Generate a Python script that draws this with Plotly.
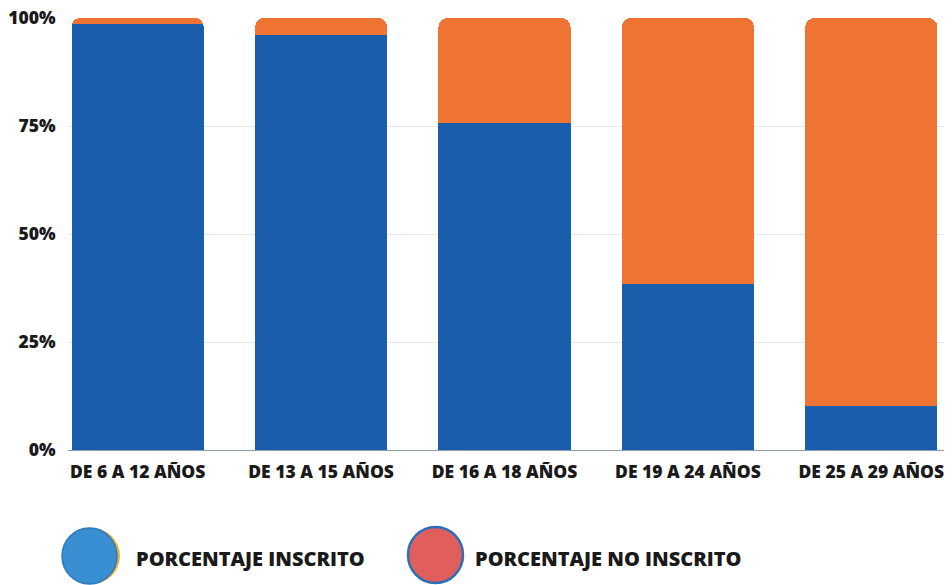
import plotly.graph_objects as go

categories = ["DE 6 A 12 AÑOS", "DE 13 A 15 AÑOS", "DE 16 A 18 AÑOS", "DE 19 A 24 AÑOS", "DE 25 A 29 AÑOS"]
inscrito = [98.7, 96.1, 75.7, 38.4, 10.2]
no_inscrito = [round(100 - v, 1) for v in inscrito]
y_ticks = [0, 25, 50, 75, 100]
y_tick_labels = ["0%", "25%", "50%", "75%", "100%"]
legend_labels = ["PORCENTAJE INSCRITO", "PORCENTAJE NO INSCRITO"]

BLUE = "#1A5DAB"
ORANGE = "#EF7433"
FONT = "Open Sans"

OFF = 8  # page body margin
W, H = 952 - OFF, 585 - OFF
L, R, T, B = 68 - OFF, 0, 18 - OFF, 135
pw, ph = W - L - R, H - T - B

fig = go.Figure()
fig.add_trace(go.Bar(x=list(range(len(categories))), y=inscrito, name=legend_labels[0],
                     marker=dict(color=BLUE, line=dict(width=0)), width=0.72, showlegend=False))
fig.add_trace(go.Bar(x=list(range(len(categories))), y=no_inscrito, name=legend_labels[1],
                     marker=dict(color=ORANGE, line=dict(width=0)), width=0.72, showlegend=False))

def px2paper(x, y):
    # x, y are reference-image pixel coords
    x -= OFF; y -= OFF
    return (x - L) / pw, (H - B - y) / ph

shapes = []
x0, y0 = px2paper(64, 528); x1, y1 = px2paper(120, 584)
shapes.append(dict(type="circle", xref="paper", yref="paper", x0=x0, x1=x1, y0=y0, y1=y1,
                   fillcolor="#F2B233", line=dict(width=0), layer="above"))
x0, y0 = px2paper(62, 528); x1, y1 = px2paper(117, 584)
shapes.append(dict(type="circle", xref="paper", yref="paper", x0=x0, x1=x1, y0=y0, y1=y1,
                   fillcolor="#3A8FD2", line=dict(color="#2E78BE", width=1.5), layer="above"))
x0, y0 = px2paper(408, 527); x1, y1 = px2paper(463, 583)
shapes.append(dict(type="circle", xref="paper", yref="paper", x0=x0, x1=x1, y0=y0, y1=y1,
                   fillcolor="#E05F5C", line=dict(color="#2C6FB8", width=2.5), layer="above"))

annotations = []
for (tx, txt) in [(134, legend_labels[0]), (473, legend_labels[1])]:
    ax, ay = px2paper(tx, 558)
    annotations.append(dict(xref="paper", yref="paper", x=ax, y=ay, xanchor="left", yanchor="middle",
                            text=txt, showarrow=False,
                            font=dict(family=FONT, size=20, color="#1a1a1a", weight=800)))

fig.update_layout(
    width=W, height=H,
    margin=dict(l=L, r=R, t=T, b=B, autoexpand=False),
    barmode="stack",
    barcornerradius=9,
    plot_bgcolor="white", paper_bgcolor="white",
    showlegend=False,
    shapes=shapes,
    annotations=annotations,
    font=dict(family=FONT, color="#1a1a1a"),
)
fig.update_xaxes(range=[-0.38, 4.44], tickmode="array", tickvals=list(range(len(categories))),
                 ticktext=categories, showgrid=False, zeroline=False,
                 showline=True, linecolor="#8a9bb0", linewidth=1,
                 ticks="outside", ticklen=6, tickcolor="rgba(0,0,0,0)",
                 ticklabeloverflow="allow",
                 tickfont=dict(family=FONT, size=17.5, color="#1a1a1a", weight=800))
fig.update_yaxes(range=[0, 100], tickmode="array", tickvals=y_ticks, ticktext=y_tick_labels,
                 showgrid=True, gridcolor="#e3e9f2", gridwidth=1, zeroline=False,
                 ticks="outside", ticklen=8, tickcolor="rgba(0,0,0,0)",
                 ticklabeloverflow="allow",
                 tickfont=dict(family=FONT, size=17.5, color="#1a1a1a", weight=800))

fig.write_html("out.html")
